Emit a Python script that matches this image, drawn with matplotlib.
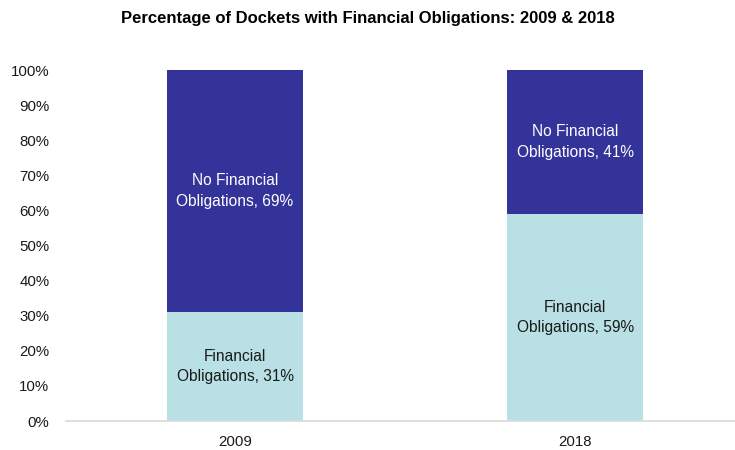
import matplotlib.pyplot as plt
from matplotlib.ticker import PercentFormatter

years = ['2009', '2018']
financial = [31, 59]
no_financial = [69, 41]

plt.rcParams['font.family'] = ['Liberation Sans', 'DejaVu Sans']

fig = plt.figure(figsize=(7.35, 4.5), dpi=100)
ax = fig.add_axes([0.0898, 0.0644, 0.9102, 0.78])

x = range(len(years))
width = 0.4
light = '#b9e0e4'
dark = '#343399'

ax.bar(x, financial, width, color=light, zorder=2)
ax.bar(x, no_financial, width, bottom=financial, color=dark, zorder=2)

for i in x:
    ax.text(i, financial[i] / 2, 'Financial\nObligations, %d%%' % financial[i],
            ha='center', va='center', fontsize=11.2, color='#1a1a1a', linespacing=1.45)
    ax.text(i, financial[i] + no_financial[i] / 2,
            'No Financial\nObligations, %d%%' % no_financial[i],
            ha='center', va='center', fontsize=11.2, color='white', linespacing=1.45)

ax.set_xlim(-0.497, 1.47)
ax.set_ylim(0, 100)
ax.set_yticks(range(0, 101, 10))
ax.yaxis.set_major_formatter(PercentFormatter(decimals=0))
ax.set_xticks(list(x))
ax.set_xticklabels(years)
ax.tick_params(axis='both', length=0, labelsize=10.8, colors='#1a1a1a')
ax.tick_params(axis='x', pad=10)
ax.tick_params(axis='y', pad=12)

for side in ['top', 'right', 'left']:
    ax.spines[side].set_visible(False)
ax.spines['bottom'].set_color('#d9d9d9')
ax.spines['bottom'].set_linewidth(1.2)

fig.text(0.5, 0.958, 'Percentage of Dockets with Financial Obligations: 2009 & 2018',
         ha='center', va='center', fontsize=12, fontweight='bold')

fig.savefig('out.png', dpi=100)
